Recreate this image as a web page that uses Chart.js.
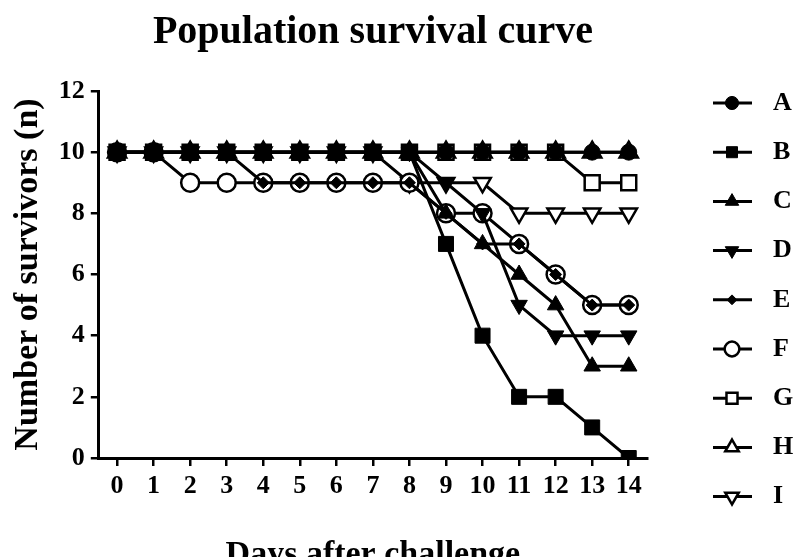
<!DOCTYPE html>
<html>
<head>
<meta charset="utf-8">
<title>Population survival curve</title>
<script src="https://cdn.jsdelivr.net/npm/chart.js"></script>
<style>
  html, body { margin: 0; padding: 0; background: #fff; overflow: hidden; }
  #wrap { width: 800px; height: 580px; }
</style>
</head>
<body>
<div id="wrap"><canvas id="mycanvas"></canvas></div>
<script>
// days after challenge
var days = ['0', '1', '2', '3', '4', '5', '6', '7', '8', '9', '10', '11', '12', '13', '14'];
var groups = ['A', 'B', 'C', 'D', 'E', 'F', 'G', 'H', 'I'];

// survivors per group, one value per day
var survA = [10, 10, 10, 10, 10, 10, 10, 10, 10, 10, 10, 10, 10, 10, 10];
var survB = [10, 10, 10, 10, 10, 10, 10, 10, 10, 7, 4, 2, 2, 1, 0];
var survC = [10, 10, 10, 10, 10, 10, 10, 10, 10, 8, 7, 6, 5, 3, 3];
var survD = [10, 10, 10, 10, 10, 10, 10, 10, 10, 9, 8, 5, 4, 4, 4];
var survE = [10, 10, 10, 10, 9, 9, 9, 9, 9, 8, 7, 7, 6, 5, 5];
var survF = [10, 10, 9, 9, 9, 9, 9, 9, 9, 8, 8, 7, 6, 5, 5];
var survG = [10, 10, 10, 10, 10, 10, 10, 10, 10, 10, 10, 10, 10, 9, 9];
var survH = [10, 10, 10, 10, 10, 10, 10, 10, 10, 10, 10, 10, 10, 10, 10];
var survI = [10, 10, 10, 10, 10, 10, 10, 10, 9, 9, 9, 8, 8, 8, 8];

var yTicks = [0, 2, 4, 6, 8, 10, 12];

var serif = '"Liberation Serif", "Times New Roman", serif';

// symbol per group: filled ones first, open (white) ones after
var symbols = [
  { style: 'circle',   rot: 0,   r: 8,    fill: '#000' },
  { style: 'rect',     rot: 0,   r: 10.6, fill: '#000' },
  { style: 'triangle', rot: 0,   r: 9.5,  fill: '#000' },
  { style: 'triangle', rot: 180, r: 9.5,  fill: '#000' },
  { style: 'rectRot',  rot: 0,   r: 6,    fill: '#000' },
  { style: 'circle',   rot: 0,   r: 9,    fill: '#fff' },
  { style: 'rect',     rot: 0,   r: 10.6, fill: '#fff' },
  { style: 'triangle', rot: 0,   r: 10.5, fill: '#fff' },
  { style: 'triangle', rot: 180, r: 9.5,  fill: '#fff' }
];

var values = [survA, survB, survC, survD, survE, survF, survG, survH, survI];

var datasets = groups.map(function(name, i) {
  var s = symbols[i];
  return {
    label: name,
    data: values[i],
    borderColor: '#000',
    borderWidth: 3,
    tension: 0,
    fill: false,
    pointStyle: s.style,
    pointRotation: s.rot,
    pointRadius: s.r,
    pointHoverRadius: s.r,
    pointBackgroundColor: s.fill,
    pointBorderColor: '#000',
    pointBorderWidth: s.fill === '#fff' ? 2.5 : 1
  };
});

// legend on the right: short line with the symbol, then the group letter
var sideLegend = {
  id: 'sideLegend',
  afterDraw: function(chart) {
    var ctx = chart.ctx;
    var x0 = 713, x1 = 752, xm = 732, xt = 773;
    var top = 103, step = 49.2;
    ctx.save();
    chart.data.datasets.forEach(function(ds, i) {
      var y = top + i * step;
      ctx.strokeStyle = '#000';
      ctx.lineWidth = 3;
      ctx.beginPath();
      ctx.moveTo(x0, y);
      ctx.lineTo(x1, y);
      ctx.stroke();

      ctx.fillStyle = ds.pointBackgroundColor;
      ctx.lineWidth = ds.pointBorderWidth;
      Chart.helpers.drawPoint(ctx, {
        pointStyle: ds.pointStyle,
        rotation: ds.pointRotation,
        radius: Math.min(ds.pointRadius, 9.5) * 0.82,
        borderWidth: ds.pointBorderWidth
      }, xm, y);

      ctx.fillStyle = '#000';
      ctx.font = 'bold 26px ' + serif;
      ctx.textAlign = 'left';
      ctx.textBaseline = 'middle';
      ctx.fillText(ds.label, xt, y);
    });
    ctx.restore();
  }
};

var ctx = document.getElementById('mycanvas');

var myChart = new Chart(ctx, {
  type: 'line',
  data: {
    labels: days,
    datasets: datasets
  },
  plugins: [sideLegend],
  options: {
    responsive: true,
    maintainAspectRatio: false,
    animation: false,
    devicePixelRatio: 1,
    layout: {
      padding: { left: 8, right: 153, top: 0, bottom: 4 }
    },
    plugins: {
      legend: { display: false },
      tooltip: { enabled: false },
      title: {
        display: true,
        fullSize: false,
        text: 'Population survival curve',
        color: '#000',
        font: { family: serif, size: 40, weight: 'bold' },
        padding: { top: 9, bottom: 34 }
      }
    },
    scales: {
      x: {
        type: 'category',
        offset: true,
        grid: {
          drawOnChartArea: false,
          drawTicks: true,
          tickLength: 8,
          color: '#000',
          lineWidth: 2.5
        },
        border: { display: true, color: '#000', width: 3 },
        ticks: {
          color: '#000',
          font: { family: serif, size: 26, weight: 'bold' },
          padding: 5,
          maxRotation: 0,
          autoSkip: false
        },
        title: {
          display: true,
          text: 'Days after challenge',
          color: '#000',
          font: { family: serif, size: 34, weight: 'bold' },
          padding: { top: 28, bottom: 0 }
        }
      },
      y: {
        min: yTicks[0],
        max: yTicks[yTicks.length - 1],
        afterBuildTicks: function(axis) {
          axis.ticks = yTicks.map(function(v) { return { value: v }; });
        },
        grid: {
          drawOnChartArea: false,
          drawTicks: true,
          tickLength: 8,
          color: '#000',
          lineWidth: 2.5
        },
        border: { display: true, color: '#000', width: 3 },
        ticks: {
          color: '#000',
          font: { family: serif, size: 26, weight: 'bold' },
          padding: 6
        },
        title: {
          display: true,
          text: 'Number of survivors (n)',
          color: '#000',
          font: { family: serif, size: 34, weight: 'bold' },
          padding: { top: 0, bottom: 4 }
        }
      }
    }
  }
});
</script>
</body>
</html>
